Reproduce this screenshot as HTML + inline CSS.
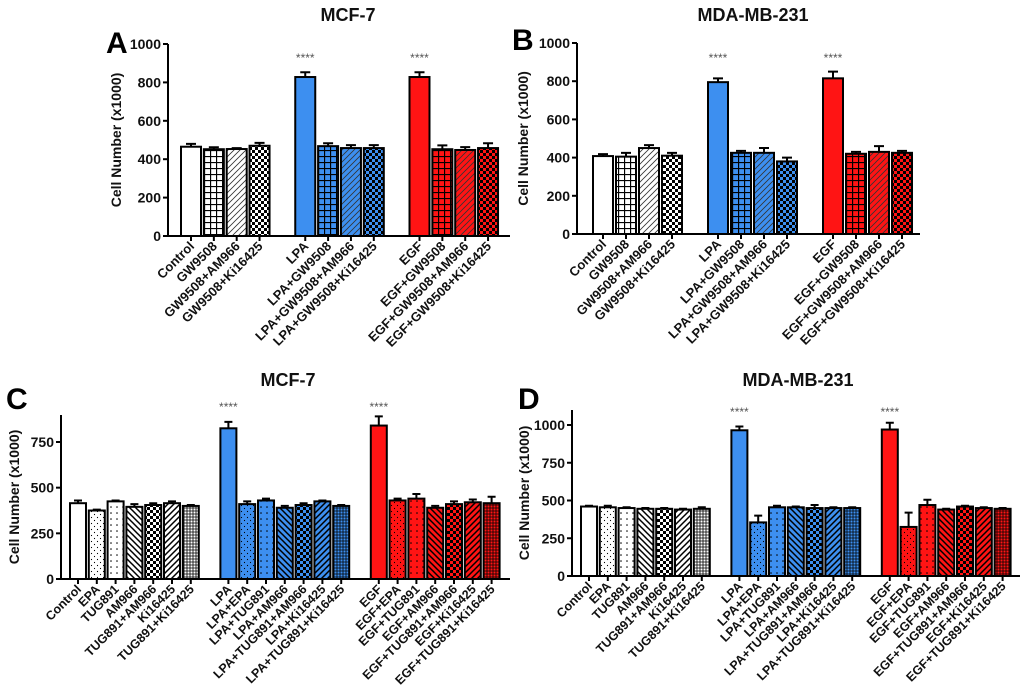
<!DOCTYPE html>
<html><head><meta charset="utf-8">
<style>
body{margin:0;background:#fff;}
svg{display:block;font-family:"Liberation Sans",Arial,sans-serif;}
</style></head>
<body>
<svg id="fig" width="1024" height="690" viewBox="0 0 1024 690">
<defs id="defs"></defs>
</svg>
<script>
// ---- data ----
const catsAB = ["Control","GW9508","GW9508+AM966","GW9508+Ki16425","LPA","LPA+GW9508","LPA+GW9508+AM966","LPA+GW9508+Ki16425","EGF","EGF+GW9508","EGF+GW9508+AM966","EGF+GW9508+Ki16425"];
const catsC = ["Control","EPA","TUG891","AM966","TUG891+AM966","Ki16425","TUG891+Ki16425","LPA","LPA+EPA","LPA+TUG891","LPA+AM966","LPA+TUG891+AM966","LPA+Ki16425","LPA+TUG891+Ki16425","EGF","EGF+EPA","EGF+TUG891","EGF+AM966","EGF+TUG891+AM966","EGF+Ki16425","EGF+TUG891+Ki16425"];
const valsA = [465,452,453,470, 828,468,458,458, 828,452,448,458];
const errsA = [15,10,5,15, 25,15,15,15, 25,20,15,25];
const valsB = [408,405,450,410, 795,425,425,380, 815,420,430,425];
const errsB = [10,20,15,15, 20,10,25,20, 35,10,30,10];
const valsC = [415,375,425,395,405,415,400, 825,410,430,390,405,425,400, 840,430,440,390,410,420,415];
const errsC = [15,5,5,15,10,10,5, 35,15,10,10,10,5,5, 50,10,25,10,15,15,35];
const valsD = [460,455,450,445,445,440,445, 965,355,455,455,450,450,450, 970,325,470,440,460,450,445];
const errsD = [5,10,5,5,5,5,10, 25,45,10,5,20,5,5, 45,95,35,5,5,5,5];
const ticksAB = [0,200,400,600,800,1000];
const ticksC = [0,250,500,750];
const ticksD = [0,250,500,750,1000];
const starIdxAB = [4,8];
const starIdxC = [7,14];

const NS="http://www.w3.org/2000/svg";
const svg=document.getElementById('fig');
const defs=document.getElementById('defs');
function mk(tag,attrs,parent){const e=document.createElementNS(NS,tag);for(const k in attrs)e.setAttribute(k,attrs[k]);(parent||svg).appendChild(e);return e;}

const bases={w:'#ffffff',b:'#3d8ff0',r:'#ff1414'};
const kinds=['grid','hatch','checker','dots','dots2','hatchR','hatchL','dense'];
for(const bk in bases){for(const k of kinds){
  const p=mk('pattern',{id:k+'-'+bk,patternUnits:'userSpaceOnUse',width:6,height:6},defs);
  mk('rect',{x:0,y:0,width:6,height:6,fill:bases[bk]},p);
  const c='#000';
  if(k==='grid'){mk('path',{d:'M0 0.5H6M0.5 0V6',stroke:c,'stroke-width':1.3},p);}
  if(k==='hatch'){mk('path',{d:'M0 6L6 0M-1 1L1 -1M5 7L7 5',stroke:'#333','stroke-width':0.8},p);}
  if(k==='checker'){mk('rect',{x:0,y:0,width:3,height:3,fill:c},p);mk('rect',{x:3,y:3,width:3,height:3,fill:c},p);}
  if(k==='dots'){mk('circle',{cx:1.5,cy:1.5,r:0.6,fill:c},p);mk('circle',{cx:4.5,cy:4.5,r:0.6,fill:c},p);}
  if(k==='dots2'){mk('circle',{cx:3,cy:3,r:0.8,fill:c},p);}
  if(k==='hatchR'){mk('path',{d:'M0 0L6 6M-1 5L1 7M5 -1L7 1',stroke:c,'stroke-width':1.5},p);}
  if(k==='hatchL'){mk('path',{d:'M0 6L6 0M-1 1L1 -1M5 7L7 5',stroke:c,'stroke-width':1.5},p);}
  if(k==='dense'){mk('path',{d:'M0 1H6M0 4H6M1 0V6M4 0V6',stroke:c,'stroke-width':0.8},p);}
}}
const patAB=['none','grid','hatch','checker'];
const patC=['none','dots','dots2','hatchR','checker','hatchL','dense'];

function chart(o){
  const g=mk('g',{});
  
  
  const y=v=>o.y0-(v-0)*(o.y0-o.yRef)/o.vRef;
  const x=i=>o.x0c+o.slotIdx(i)*o.step;
  const t=mk('text',{x:o.tx,y:o.ty,'text-anchor':'middle','font-size':18,'font-weight':'bold',fill:'#111'},g);t.textContent=o.title;
  
  const L=mk('text',{x:o.lx,y:o.ly,'font-size':30,'font-weight':'bold',fill:'#000'},g);L.textContent=o.letter;
  
  const ya=mk('text',{x:0,y:0,transform:`translate(${o.ytx},${(o.y0+o.yTop)/2}) rotate(-90)`,'text-anchor':'middle','font-size':14,'font-weight':'bold',fill:'#111'},g);
  ya.textContent='Cell Number (x1000)';
  
  const ax=mk('path',{d:`M${o.ax} ${o.yTop}V${o.y0}H${o.xEnd}`,stroke:'#000','stroke-width':2,fill:'none'},g);
  
  o.ticks.forEach(tv=>{
    mk('line',{x1:o.ax-5,x2:o.ax,y1:y(tv),y2:y(tv),stroke:'#000','stroke-width':2},g);
    const tl=mk('text',{x:o.ax-7,y:y(tv)+5,'text-anchor':'end','font-size':14,'font-weight':'bold',fill:'#111'},g);
    tl.textContent=tv;
    
  });
  o.vals.forEach((v,i)=>{
    const cx=x(i),grp=o.group(i),pt=o.pats[o.within(i)];
    const base=['w','b','r'][grp];
    const fill=pt==='none'?bases[base]:`url(#${pt}-${base})`;
    const b=mk('rect',{x:cx-o.bw/2,y:y(v),width:o.bw,height:o.y0-y(v),fill:fill,stroke:'#000','stroke-width':2},g);
    
    
    const e=y(v+o.errs[i]);
    const eb=mk('path',{d:`M${cx} ${y(v)}V${e}M${cx-o.bw/4} ${e}H${cx+o.bw/4}`,stroke:'#000','stroke-width':2},g);
    
    mk('line',{x1:cx,x2:cx,y1:o.y0,y2:o.y0+5,stroke:'#000','stroke-width':2},g);
    const lab=mk('text',{x:0,y:0,transform:`translate(${cx+4},${o.y0+11}) rotate(-45)`,'text-anchor':'end','font-size':o.fs,'font-weight':'bold',fill:'#111'},g);
    lab.textContent=o.cats[i];
    
  });
  o.stars.forEach(i=>{
    const s=mk('text',{x:x(i),y:o.starY,'text-anchor':'middle','font-size':12,fill:'#555'},g);
    s.textContent='****';
    
  });
}
const slotAB=i=>i+Math.floor(i/4);
const slotC=i=>i+Math.floor(i/7);
chart({name:'panel-a-chart',title:'MCF-7',letter:'A',tx:348,ty:21,lx:106,ly:53,ytx:121,ax:168,y0:236,yRef:44,vRef:1000,yTop:44,xEnd:510,
  x0c:191,step:22.85,bw:20,slotIdx:slotAB,group:i=>Math.floor(i/4),within:i=>i%4,pats:patAB,cats:catsAB,vals:valsA,errs:errsA,ticks:ticksAB,stars:starIdxAB,starY:62,fs:13});
chart({name:'panel-b-chart',title:'MDA-MB-231',letter:'B',tx:753,ty:21,lx:512,ly:50,ytx:528,ax:577,y0:234,yRef:43,vRef:1000,yTop:43,xEnd:920,
  x0c:603,step:23,bw:20,slotIdx:slotAB,group:i=>Math.floor(i/4),within:i=>i%4,pats:patAB,cats:catsAB,vals:valsB,errs:errsB,ticks:ticksAB,stars:starIdxAB,starY:62,fs:13});
chart({name:'panel-c-chart',title:'MCF-7',letter:'C',tx:288,ty:386,lx:6,ly:409,ytx:19,ax:61,y0:579,yRef:442,vRef:750,yTop:415,xEnd:510,
  x0c:78,step:18.8,bw:16,slotIdx:slotC,group:i=>Math.floor(i/7),within:i=>i%7,pats:patC,cats:catsC,vals:valsC,errs:errsC,ticks:ticksC,stars:starIdxC,starY:411,fs:12.5});
chart({name:'panel-d-chart',title:'MDA-MB-231',letter:'D',tx:798,ty:386,lx:518,ly:409,ytx:529,ax:572,y0:576,yRef:425,vRef:1000,yTop:410,xEnd:1020,
  x0c:589,step:18.8,bw:16,slotIdx:slotC,group:i=>Math.floor(i/7),within:i=>i%7,pats:patC,cats:catsC,vals:valsD,errs:errsD,ticks:ticksD,stars:starIdxC,starY:416,fs:12.5});
</script>
</body></html>
